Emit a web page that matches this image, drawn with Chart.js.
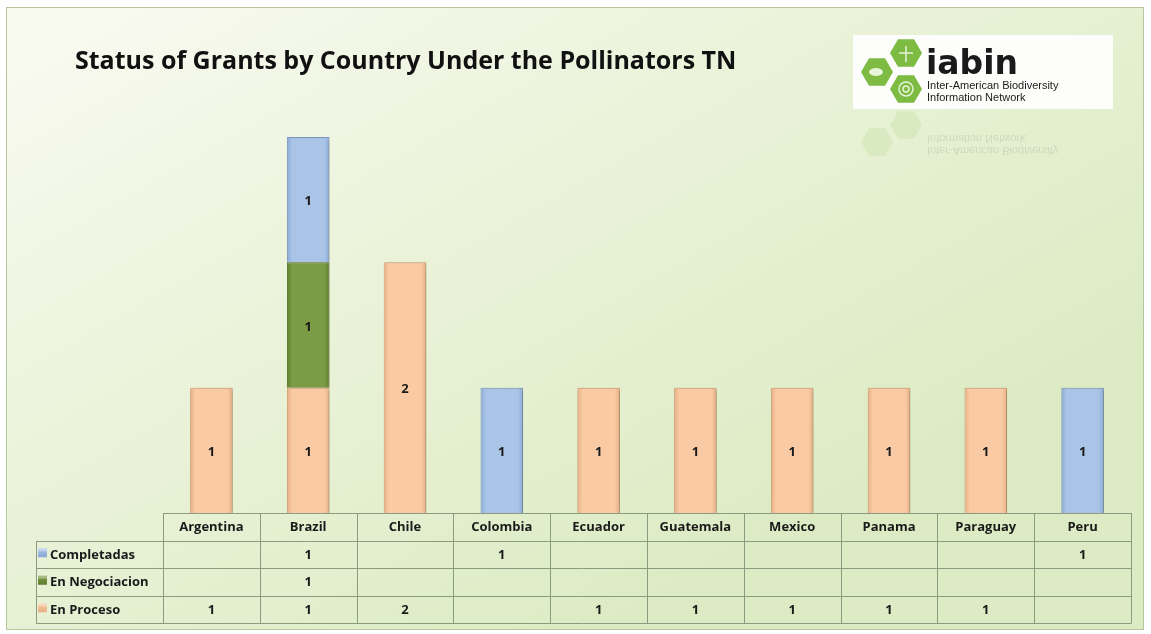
<!DOCTYPE html>
<html>
<head>
<meta charset="utf-8">
<script src="https://cdn.jsdelivr.net/npm/chart.js@4"></script>
<style>
  html, body { margin: 0; padding: 0; background: #ffffff; }
  #wrap { width: 1151px; height: 634px; position: relative; }
</style>
</head>
<body>
<div id="wrap"><canvas id="grafik" width="1151" height="634"></canvas></div>
<script>
const negara = ['Argentina', 'Brazil', 'Chile', 'Colombia', 'Ecuador', 'Guatemala', 'Mexico', 'Panama', 'Paraguay', 'Peru'];
const completadas = [null, 1, null, 1, null, null, null, null, null, 1];
const enNegociacion = [null, 1, null, null, null, null, null, null, null, null];
const enProceso = [1, 1, 2, null, 1, 1, 1, 1, 1, null];
const namaSeri = ['En Proceso', 'En Negociacion', 'Completadas'];
const yMin = 0;
const yMax = 3;
const judul = 'Status of Grants by Country Under the Pollinators TN';

// [tepi, tengah]
const warna = {
  'Completadas': ['#88a9d6', '#a9c4e7'],
  'En Negociacion': ['#5f7f2e', '#7b9b45'],
  'En Proceso': ['#e6ae84', '#f9caa3']
};
const warnaTepi = {
  'Completadas': '#7f9cc4',
  'En Negociacion': '#56742a',
  'En Proceso': '#d8a37a'
};
const persenBatang = 0.44;

const fontLabel = 'bold 13px "Open Sans", sans-serif';
const garis = '#8c9a80';

function isiBatang(c) {
  const chart = c.chart;
  const n = c.dataset.label;
  if (!chart.chartArea || !chart.scales.x) return warna[n][1];
  const area = chart.chartArea;
  const w = (area.right - area.left) / negara.length * persenBatang;
  const cx = chart.scales.x.getPixelForValue(c.dataIndex);
  const g = chart.ctx.createLinearGradient(cx - w / 2, 0, cx + w / 2, 0);
  g.addColorStop(0, warna[n][0]);
  g.addColorStop(0.12, warna[n][1]);
  g.addColorStop(0.88, warna[n][1]);
  g.addColorStop(1, warna[n][0]);
  return g;
}

function hexagon(ctx, cx, cy, r, fill) {
  ctx.beginPath();
  for (let i = 0; i < 6; i++) {
    const a = Math.PI / 3 * i;
    const px = cx + r * Math.cos(a);
    const py = cy + r * Math.sin(a);
    if (i === 0) ctx.moveTo(px, py); else ctx.lineTo(px, py);
  }
  ctx.closePath();
  ctx.fillStyle = fill;
  ctx.fill();
}

function gambarLogo(ctx) {
  ctx.save();
  ctx.fillStyle = 'rgba(255,255,255,0.9)';
  ctx.fillRect(853, 35, 260, 74);
  hexagon(ctx, 906, 53, 16, '#7dbb42');
  hexagon(ctx, 877, 72, 16, '#7dbb42');
  hexagon(ctx, 906, 89, 16, '#7dbb42');
  ctx.strokeStyle = '#e8f4da';
  ctx.lineWidth = 1.5;
  ctx.beginPath(); ctx.arc(906, 89, 7, 0, Math.PI * 2); ctx.stroke();
  ctx.beginPath(); ctx.arc(906, 89, 3, 0, Math.PI * 2); ctx.stroke();
  ctx.beginPath(); ctx.ellipse(876, 72, 7, 4, 0, 0, Math.PI * 2); ctx.fillStyle = '#e8f4da'; ctx.fill();
  ctx.beginPath(); ctx.moveTo(899, 53); ctx.lineTo(913, 53); ctx.moveTo(906, 46); ctx.lineTo(906, 62); ctx.stroke();
  ctx.fillStyle = '#1a1a1a';
  ctx.textBaseline = 'alphabetic';
  ctx.font = 'bold 33px "DejaVu Sans", sans-serif';
  ctx.fillText('iabin', 926, 74);
  ctx.font = '11px "Liberation Sans Narrow", "Liberation Sans", sans-serif';
  ctx.fillText('Inter-American Biodiversity', 927, 89);
  ctx.fillText('Information Network', 927, 101);
  // pantulan samar
  ctx.globalAlpha = 0.12;
  hexagon(ctx, 906, 125, 16, '#7dbb42');
  hexagon(ctx, 877, 142, 16, '#7dbb42');
  ctx.fillStyle = '#333';
  ctx.font = '11px "Liberation Sans Narrow", sans-serif';
  ctx.save();
  ctx.translate(0, 236);
  ctx.scale(1, -1);
  ctx.fillText('Information Network', 927, 101);
  ctx.fillText('Inter-American Biodiversity', 927, 89);
  ctx.restore();
  ctx.restore();
}

const pluginLatar = {
  id: 'latar',
  beforeDraw(chart) {
    const ctx = chart.ctx;
    ctx.save();
    const g = ctx.createLinearGradient(100, 0, 500, 700);
    g.addColorStop(0, '#f8faf0');
    g.addColorStop(0.45, '#ebf3da');
    g.addColorStop(1, '#dcebc4');
    ctx.fillStyle = g;
    ctx.fillRect(6, 7, 1137, 622);
    ctx.strokeStyle = '#b7c79d';
    ctx.lineWidth = 1;
    ctx.strokeRect(6.5, 7.5, 1137, 622);
    // judul
    ctx.fillStyle = '#111';
    let ukuran = 24;
    ctx.font = 'bold ' + ukuran + 'px "Open Sans", sans-serif';
    const lebar = ctx.measureText(judul).width;
    ukuran = ukuran * 662 / lebar;
    ctx.font = 'bold ' + ukuran.toFixed(1) + 'px "Open Sans", sans-serif';
    ctx.textBaseline = 'alphabetic';
    ctx.fillText(judul, 75, 69);
    gambarLogo(ctx);
    ctx.restore();
  },
  beforeDatasetsDraw(chart) {
    chart.ctx.save();
    chart.ctx.shadowColor = 'rgba(60,60,30,0.35)';
    chart.ctx.shadowBlur = 4;
    chart.ctx.shadowOffsetX = 2;
    chart.ctx.shadowOffsetY = 1;
  },
  afterDatasetsDraw(chart) {
    const ctx = chart.ctx;
    ctx.restore();
    ctx.save();
    ctx.font = fontLabel;
    ctx.fillStyle = '#1a1a1a';
    ctx.textAlign = 'center';
    ctx.textBaseline = 'middle';
    chart.data.datasets.forEach((ds, i) => {
      const meta = chart.getDatasetMeta(i);
      meta.data.forEach((bar, j) => {
        const v = ds.data[j];
        if (v === null || v === undefined) return;
        ctx.fillText(String(v), bar.x, (bar.y + bar.base) / 2 + 2);
      });
    });
    ctx.restore();
  },
  afterDraw(chart) {
    const ctx = chart.ctx;
    const x = chart.scales.x;
    const area = chart.chartArea;
    const lebarKolom = (area.right - area.left) / negara.length;
    const yAtas = area.bottom;
    const tinggiBaris = 27.5;
    const kiriLegenda = 36;
    const barisTabel = [
      ['Completadas', completadas],
      ['En Negociacion', enNegociacion],
      ['En Proceso', enProceso]
    ];
    const yBawah = yAtas + tinggiBaris * (barisTabel.length + 1);
    ctx.save();
    ctx.strokeStyle = garis;
    ctx.lineWidth = 1;
    ctx.beginPath();
    // garis horizontal
    ctx.moveTo(area.left, yAtas + 0.5);
    ctx.lineTo(area.right, yAtas + 0.5);
    for (let r = 1; r <= barisTabel.length; r++) {
      const yy = Math.round(yAtas + tinggiBaris * r) + 0.5;
      ctx.moveTo(kiriLegenda, yy);
      ctx.lineTo(area.right, yy);
    }
    ctx.moveTo(kiriLegenda, Math.round(yBawah) + 0.5);
    ctx.lineTo(area.right, Math.round(yBawah) + 0.5);
    // garis vertikal
    ctx.moveTo(kiriLegenda + 0.5, Math.round(yAtas + tinggiBaris));
    ctx.lineTo(kiriLegenda + 0.5, Math.round(yBawah) + 0.5);
    for (let i = 0; i <= negara.length; i++) {
      const xx = Math.round(area.left + lebarKolom * i) + 0.5;
      ctx.moveTo(xx, yAtas);
      ctx.lineTo(xx, Math.round(yBawah) + 0.5);
    }
    ctx.stroke();

    ctx.font = fontLabel;
    ctx.fillStyle = '#1a1a1a';
    ctx.textBaseline = 'middle';
    ctx.textAlign = 'center';
    negara.forEach((n, i) => {
      ctx.fillText(n, x.getPixelForValue(i), yAtas + tinggiBaris / 2 + 1);
    });
    barisTabel.forEach((b, r) => {
      const yc = yAtas + tinggiBaris * (r + 1.5) + 1;
      b[1].forEach((v, i) => {
        if (v === null) return;
        ctx.textAlign = 'center';
        ctx.fillText(String(v), x.getPixelForValue(i), yc);
      });
      // penanda legenda
      const g = ctx.createLinearGradient(0, yc - 7, 0, yc + 2);
      g.addColorStop(0, warna[b[0]][1]);
      g.addColorStop(1, warna[b[0]][0]);
      ctx.fillStyle = g;
      ctx.fillRect(38, yc - 7, 9, 9);
      ctx.fillStyle = 'rgba(255,255,255,0.35)';
      ctx.fillRect(38, yc - 7, 9, 3);
      ctx.fillStyle = '#1a1a1a';
      ctx.textAlign = 'left';
      ctx.fillText(b[0], 50, yc);
    });
    ctx.restore();
  }
};

const dataSeri = {
  'En Proceso': enProceso,
  'En Negociacion': enNegociacion,
  'Completadas': completadas
};

new Chart(document.getElementById('grafik'), {
  type: 'bar',
  data: {
    labels: negara,
    datasets: namaSeri.map(n => ({
      label: n,
      data: dataSeri[n],
      backgroundColor: isiBatang,
      borderColor: warnaTepi[n],
      borderWidth: 1,
      categoryPercentage: 1,
      barPercentage: persenBatang
    }))
  },
  options: {
    responsive: false,
    animation: false,
    layout: { padding: { left: 163, right: 20, top: 137, bottom: 121 } },
    plugins: {
      legend: { display: false },
      title: { display: false },
      tooltip: { enabled: false }
    },
    scales: {
      x: { stacked: true, display: false, grid: { display: false } },
      y: { stacked: true, display: false, min: yMin, max: yMax }
    }
  },
  plugins: [pluginLatar]
});
</script>
</body>
</html>
